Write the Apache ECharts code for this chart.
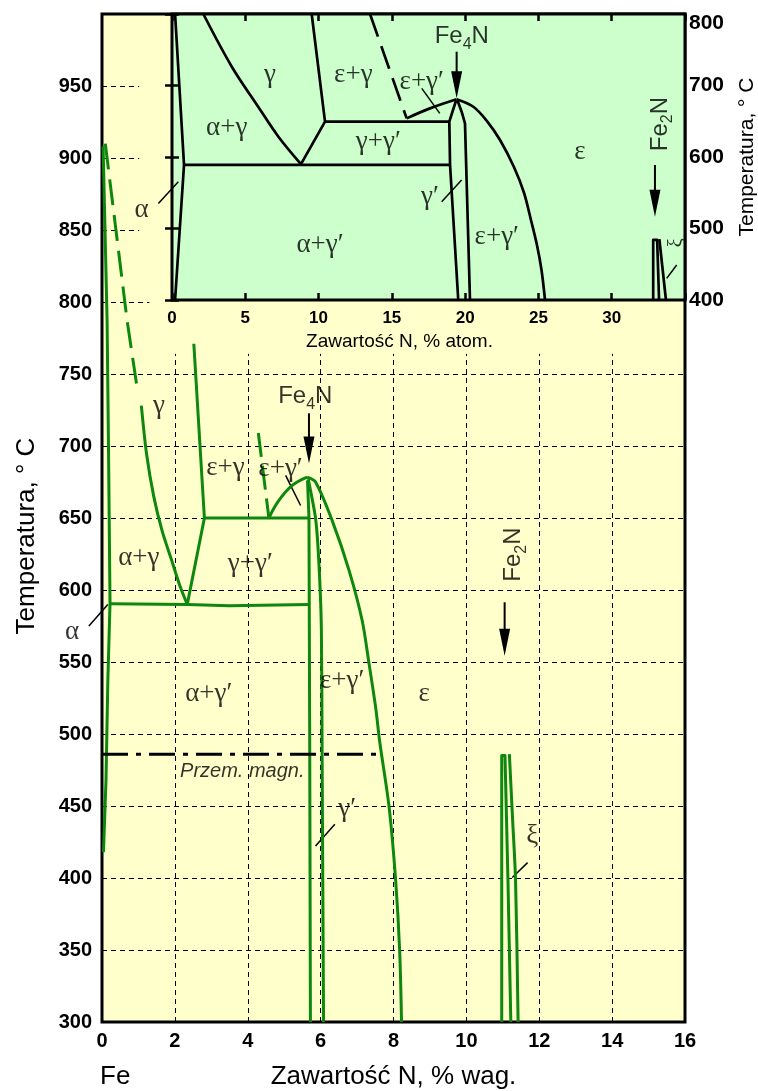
<!DOCTYPE html>
<html><head><meta charset="utf-8">
<script src="https://cdn.jsdelivr.net/npm/echarts@6/dist/echarts.min.js"></script>
<style>html,body{margin:0;padding:0;background:#fff}#c{width:758px;height:1091px}</style>
</head><body><div id="c"></div>
<script>
// ---------------- DATA ----------------
const wtTicks = [0, 2, 4, 6, 8, 10, 12, 14, 16];
const tempTicks = [300, 350, 400, 450, 500, 550, 600, 650, 700, 750, 800, 850, 900, 950];
const atTicks = [0, 5, 10, 15, 20, 25, 30];
const insetTempTicks = [400, 500, 600, 700, 800];

// main diagram: [N wt%, °C]
const alphaSolvus = [[0.03, 908], [0.14, 787], [0.18, 695], [0.22, 591], [0.16, 537], [0.11, 468], [0.04, 418]];
const gammaDashed = [[0.09, 910], [0.69, 787], [0.96, 741]];
const gammaLeft = [[1.08, 728], [1.22, 695], [1.42, 665], [1.65, 641], [1.92, 620], [2.15, 602], [2.34, 590]];
const gammaRight = [[2.52, 771], [2.81, 650], [2.34, 590]];
const line650 = [[2.81, 650], [5.70, 650]];
const line590 = [[0.22, 590.5], [2.34, 590], [3.5, 589], [4.8, 589.5], [5.70, 590]];
const epsGammaDashed = [[4.29, 709], [4.58, 650]];
const dome = [[4.58, 650], [4.85, 662], [5.22, 672.6], [5.63, 678.4]];
const epsSolvus = [[5.63, 678.4], [5.86, 675], [6.32, 648], [6.78, 613.6], [7.14, 578.8], [7.33, 548.7], [7.51, 518.5], [7.62, 495], [7.88, 449], [8.06, 398], [8.17, 349], [8.22, 300]];
const gpLeft = [[5.64, 676], [5.68, 650], [5.70, 500], [5.72, 300]];
const gpRight = [[5.66, 677], [5.86, 650], [5.95, 620], [6.02, 574], [6.04, 490], [6.08, 300]];
const xiA = [[10.97, 300], [10.97, 485], [11.06, 485], [11.14, 400], [11.22, 300]];
const xiB = [[11.18, 486], [11.27, 440], [11.35, 398], [11.42, 300]];
const magnetic = [[0, 486], [7.52, 486]];

// inset: [N at%, °C]
const inAlpha = [[0.21, 800], [0.82, 589], [0.21, 400]];
const inGammaLeft = [[2.14, 800], [4.08, 726.3], [5.88, 670.3], [7.26, 628.4], [8.80, 590]];
const inGammaRight = [[9.53, 800], [10.44, 649.5], [8.80, 590]];
const in650 = [[10.44, 649.5], [18.92, 649.5]];
const in590 = [[0.82, 589], [18.97, 589]];
const inDashed = [[13.51, 800], [16.01, 654]];
const inDome = [[16.01, 654], [17.60, 668], [19.42, 680.7]];
const inEps = [[19.42, 680.7], [20.56, 670.3], [21.49, 650.3], [22.38, 623.8], [23.33, 586], [24.02, 549.7], [24.49, 511.9], [24.90, 476.9], [25.21, 441.9], [25.45, 400]];
const inGpLeft = [[19.38, 679], [18.92, 649.5], [18.97, 589], [19.53, 400]];
const inGpRight = [[19.48, 679], [19.76, 663.4], [19.99, 647], [20.33, 400]];
const inXiA = [[32.83, 400], [32.83, 484], [33.10, 484], [33.23, 400]];
const inXiB = [[33.25, 485], [33.70, 400]];

// phase labels: [text, x, T]
const mainLabels = [['γ', 1.56, 728], ['ε+γ', 3.39, 685], ['ε+γ′', 4.90, 684], ['α+γ', 1.01, 622], ['γ+γ′', 4.07, 618],
  ['α', -0.82, 571], ['α+γ′', 2.93, 528], ['ε+γ′', 6.59, 537], ['ε', 8.84, 528], ['γ′', 6.73, 448], ['ξ', 11.81, 429]];
const insetLabels = [['γ', 6.69, 715], ['α+γ', 3.73, 640], ['α', -2.07, 526], ['α+γ′', 10.10, 477], ['ε+γ', 12.37, 715],
  ['γ+γ′', 14.08, 621], ['ε+γ′', 17.04, 705], ['γ′', 17.60, 544.5], ['ε+γ′', 22.16, 488.5], ['ε', 27.83, 607]];
const insetXiLabel = [['ξ', 34.46, 480]];
const mainLeaders = [[[-0.36, 575], [0.16, 590]], [[5.04, 679.6], [5.45, 658.7]], [[5.86, 422.3], [6.39, 437.4]], [[11.26, 400.3], [11.68, 410.7]]];
const insetLeaders = [[[-0.93, 535], [0.43, 565.5]], [[17.04, 696], [18.27, 661]], [[18.40, 537.5], [19.76, 567.8]], [[33.75, 430.3], [34.43, 449]]];
// arrows: [x, T start, T tip]
const mainArrows = [[5.68, 722.7, 687.9], [11.05, 591.5, 554.4]];
const insetArrows = [[19.42, 747.3, 682], [32.95, 588.8, 516.5]];
const mainCompounds = [['Fe4N', 5.58, 734.5, 0], ['Fe2N', 11.29, 624.6, 90]];
const insetCompounds = [['Fe4N', 19.77, 769, 0], ['Fe2N', 33.3, 646, 90]];
const magnText = [['Przem. magn.', 3.85, 473.8]];
// ---------------------------------------

const GREEN = '#0e870e';
const SERIF = "'Liberation Serif','DejaVu Serif',serif";
const SANS = "'Liberation Sans',Arial,sans-serif";

function curve(data, ax, color, width, smooth, type) {
  return {
    type: 'line', data: data, xAxisIndex: ax[0], yAxisIndex: ax[1], symbol: 'none', smooth: smooth || false,
    lineStyle: { color: color, width: width, type: type || 'solid', cap: 'butt', join: 'round' },
    silent: true, animation: false, z: 3
  };
}
function texts(items, ax, style, rotate) {
  return {
    type: 'scatter', xAxisIndex: ax[0], yAxisIndex: ax[1], symbolSize: 1, clip: false, silent: true, animation: false,
    itemStyle: { color: 'rgba(0,0,0,0)' }, z: 6,
    data: items.map(d => ({ name: d[0], value: [d[1], d[2]] })),
    label: Object.assign({ show: true, position: 'inside', formatter: '{b}', color: '#000', rotate: rotate || 0 }, style)
  };
}
function compounds(items, ax) {
  return {
    type: 'scatter', xAxisIndex: ax[0], yAxisIndex: ax[1], symbolSize: 1, clip: false, silent: true, animation: false,
    itemStyle: { color: 'rgba(0,0,0,0)' }, z: 6,
    data: items.map(d => ({ name: d[0], value: [d[1], d[2]], label: { rotate: d[3] } })),
    label: {
      show: true, position: 'inside', color: '#000',
      formatter: p => '{a|Fe}{s|' + p.name.charAt(2) + '}{a|N}',
      rich: {
        a: { fontSize: 24, fontFamily: SANS, color: '#000' },
        s: { fontSize: 16, fontFamily: SANS, color: '#000', padding: [16, 0, 0, 0] }
      }
    }
  };
}
function segs(list, ax, style) {
  return {
    type: 'lines', coordinateSystem: 'cartesian2d', xAxisIndex: ax[0], yAxisIndex: ax[1], polyline: false,
    clip: false, silent: true, animation: false, z: 2,
    data: list.map(s => ({ coords: s })),
    lineStyle: Object.assign({ opacity: 1, curveness: 0 }, style)
  };
}
function arrows(data, ax) {
  return {
    type: 'custom', xAxisIndex: ax[0], yAxisIndex: ax[1], data: data, clip: false, silent: true, animation: false, z: 6,
    renderItem: function (params, api) {
      const p1 = api.coord([api.value(0), api.value(1)]);
      const p2 = api.coord([api.value(0), api.value(2)]);
      const hl = 27, hw = 5.5;
      return {
        type: 'group', children: [
          { type: 'line', shape: { x1: p1[0], y1: p1[1], x2: p2[0], y2: p2[1] - hl + 2 }, style: { stroke: '#000', lineWidth: 2 } },
          { type: 'polygon', shape: { points: [[p2[0], p2[1]], [p2[0] - hw, p2[1] - hl], [p2[0] + hw, p2[1] - hl]] }, style: { fill: '#000' } }
        ]
      };
    }
  };
}

// grid line segments for the main diagram
const gridSegs = [];
tempTicks.forEach(t => {
  if (t === 300) return;
  const xe = t > 800 ? 1.02 : (t === 800 ? 1.3 : 16);
  gridSegs.push([[0, t], [xe, t]]);
});
wtTicks.forEach(w => { if (w > 0 && w < 16) gridSegs.push([[w, 300], [w, 764]]); });

const M = [0, 0], I = [1, 2];
const greekStyle = { fontFamily: SERIF, fontSize: 27 };

const option = {
  animation: false,
  grid: [
    { left: 102, top: 14, width: 583, height: 1008, outerBoundsMode: 'none', containLabel: false, show: true, backgroundColor: '#ffffcc', borderColor: '#000', borderWidth: 3, z: 0 },
    { left: 172, top: 14, width: 513, height: 286, outerBoundsMode: 'none', containLabel: false, show: true, backgroundColor: '#ccffcc', borderColor: '#000', borderWidth: 3, z: 1 }
  ],
  xAxis: [
    {
      gridIndex: 0, type: 'value', min: 0, max: 16, interval: 2,
      axisLine: { show: false }, axisTick: { show: false }, splitLine: { show: false },
      axisLabel: { margin: 9, fontSize: 20, fontWeight: 'bold', color: '#000', fontFamily: SANS },
      name: 'Zawartość N, % wag.', nameLocation: 'middle', nameGap: 42,
      nameTextStyle: { fontSize: 26, color: '#000', fontFamily: SANS }
    },
    {
      gridIndex: 1, type: 'value', min: 0, max: 35, interval: 5, position: 'bottom',
      axisLine: { show: false }, splitLine: { show: false },
      axisTick: { show: true, inside: true, length: 7, lineStyle: { color: '#000', width: 2.5 } },
      axisLabel: { margin: 10, fontSize: 17, fontWeight: 'bold', color: '#000', fontFamily: SANS, formatter: v => (atTicks.indexOf(v) >= 0 ? String(v) : '') },
      name: 'Zawartość N, % atom.', nameLocation: 'middle', nameGap: 32,
      nameTextStyle: { fontSize: 19, color: '#000', fontFamily: SANS, padding: [0, 58, 0, 0] }, z: 4
    },
    {
      gridIndex: 1, type: 'value', min: 0, max: 35, interval: 5, position: 'top',
      axisLine: { show: false }, splitLine: { show: false }, axisLabel: { show: false },
      axisTick: { show: true, inside: true, length: 7, lineStyle: { color: '#000', width: 2.5 } }, z: 4
    }
  ],
  yAxis: [
    {
      gridIndex: 0, type: 'value', min: 300, max: 1000, interval: 50,
      axisLine: { show: false }, axisTick: { show: false }, splitLine: { show: false },
      axisLabel: { margin: 10, fontSize: 20, fontWeight: 'bold', color: '#000', fontFamily: SANS, formatter: v => (tempTicks.indexOf(v) >= 0 ? String(v) : '') },
      name: 'Temperatura, ° C', nameLocation: 'middle', nameRotate: 90, nameGap: 62,
      nameTextStyle: { fontSize: 26, color: '#000', fontFamily: SANS, padding: [0, 36, 0, 0] }
    },
    {
      gridIndex: 0, type: 'value', min: 300, max: 1000, position: 'right', show: false
    },
    {
      gridIndex: 1, type: 'value', min: 400, max: 800, interval: 100, position: 'left',
      axisLine: { show: false }, splitLine: { show: false }, axisLabel: { show: false },
      axisTick: { show: true, inside: true, length: 7, lineStyle: { color: '#000', width: 2.5 } }, z: 4
    },
    {
      gridIndex: 1, type: 'value', min: 400, max: 800, interval: 100, position: 'right',
      axisLine: { show: false }, splitLine: { show: false },
      axisTick: { show: true, inside: true, length: 7, lineStyle: { color: '#000', width: 2.5 } },
      axisLabel: {
        margin: 4, fontSize: 21, fontWeight: 'bold', color: '#000', fontFamily: SANS,
        formatter: v => (v === 800 ? '{t|800}' : (insetTempTicks.indexOf(v) >= 0 ? String(v) : '')),
        rich: { t: { fontSize: 21, fontWeight: 'bold', fontFamily: SANS, color: '#000', padding: [18, 0, 0, 0] } }
      },
      name: 'Temperatura, ° C', nameLocation: 'middle', nameRotate: 90, nameGap: 52,
      nameTextStyle: { fontSize: 21, color: '#000', fontFamily: SANS }, z: 4
    }
  ],
  graphic: [
    { type: 'text', left: 100, top: 1064, style: { text: 'Fe', fontSize: 26, fontFamily: SANS, fill: '#000' } }
  ],
  series: [
    segs(gridSegs, M, { color: '#000', width: 1, type: [5, 4] }),
    curve(alphaSolvus, M, GREEN, 3),
    curve(gammaDashed, M, GREEN, 3, false, [26, 10]),
    curve(gammaLeft, M, GREEN, 3, 0.3),
    curve(gammaRight, M, GREEN, 3),
    curve(line650, M, GREEN, 3),
    curve(line590, M, GREEN, 3),
    curve(epsGammaDashed, M, GREEN, 3, false, [24, 9]),
    curve(dome, M, GREEN, 3, 0.4),
    curve(epsSolvus, M, GREEN, 3, 0.3),
    curve(gpLeft, M, GREEN, 3),
    curve(gpRight, M, GREEN, 3, 0.2),
    curve(xiA, M, GREEN, 3),
    curve(xiB, M, GREEN, 3, 0.3),
    curve(magnetic, M, '#000', 3, false, [26, 8, 5, 8]),
    segs(mainLeaders, M, { color: '#000', width: 1.5 }),
    texts(mainLabels, M, greekStyle),
    texts(magnText, M, { fontFamily: SANS, fontSize: 20, fontStyle: 'italic' }),
    compounds(mainCompounds, M),
    arrows(mainArrows, M),

    curve(inAlpha, I, '#000', 2.7),
    curve(inGammaLeft, I, '#000', 2.7, 0.35),
    curve(inGammaRight, I, '#000', 2.7),
    curve(in650, I, '#000', 2.7),
    curve(in590, I, '#000', 2.7),
    curve(inDashed, I, '#000', 2.7, false, [24, 10]),
    curve(inDome, I, '#000', 2.7, 0.4),
    curve(inEps, I, '#000', 2.7, 0.3),
    curve(inGpLeft, I, '#000', 2.7),
    curve(inGpRight, I, '#000', 2.7),
    curve(inXiA, I, '#000', 2.7),
    curve(inXiB, I, '#000', 2.7),
    segs(insetLeaders, I, { color: '#000', width: 1.5 }),
    texts(insetLabels, I, greekStyle),
    texts(insetXiLabel, I, { fontFamily: SERIF, fontSize: 20 }, 90),
    compounds(insetCompounds, I),
    arrows(insetArrows, I)
  ]
};
const chart = echarts.init(document.getElementById('c'));
chart.setOption(option);
</script></body></html>
